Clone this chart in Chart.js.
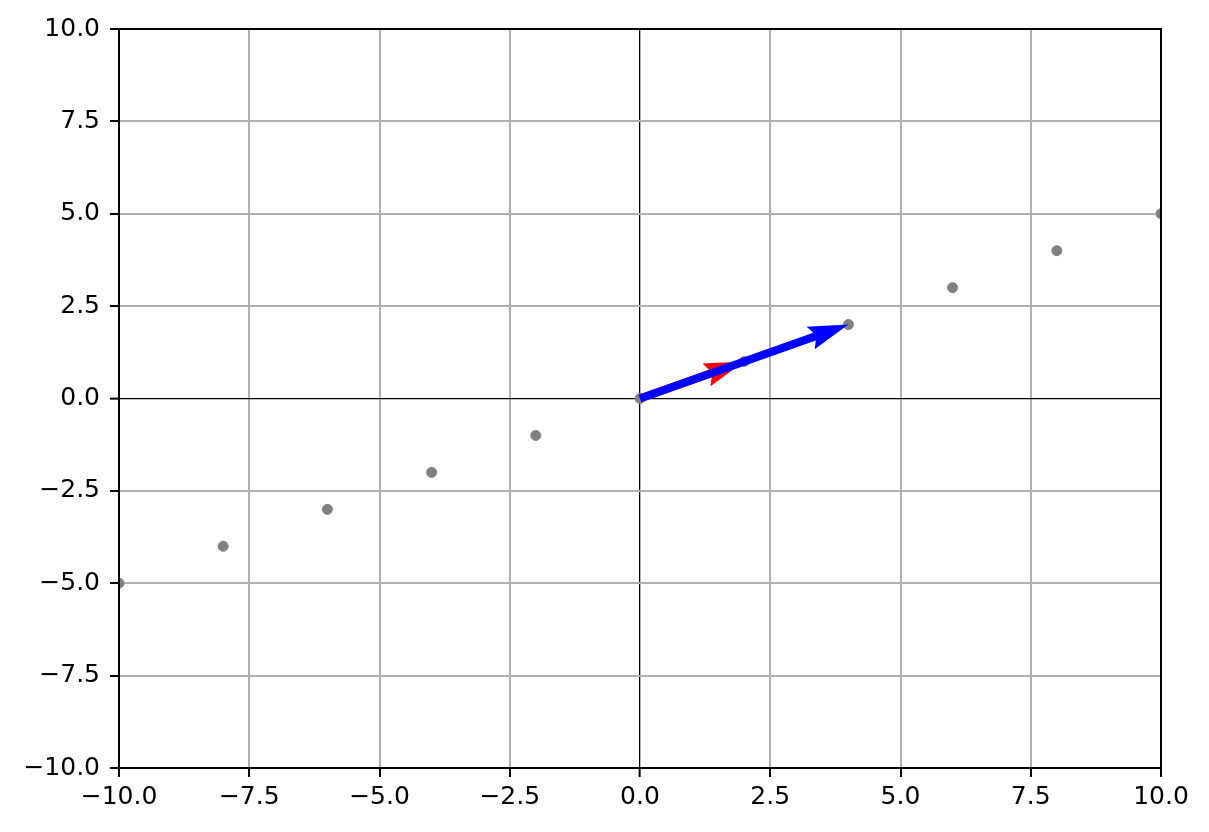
<!DOCTYPE html>
<html lang="en">
<head>
  <meta charset="UTF-8">
  <title>Vectors</title>
  <script src="https://cdn.jsdelivr.net/npm/chart.js"></script>
  <style>
    body { margin: 0; background: #fff; }
    canvas { display: block; }
  </style>
</head>
<body>
  <canvas id="myChart" width="1209" height="832"></canvas>

<script>
  // scatter points
  var point_x = [-10, -8, -6, -4, -2, 0, 2, 4, 6, 8, 10]
  var point_y = [-5, -4, -3, -2, -1, 0, 1, 2, 3, 4, 5]

  // arrows drawn from the origin (red first, blue on top)
  var arrow_x = [2, 4]
  var arrow_y = [1, 2]
  var arrow_colors = ['red', 'blue']

  var axis_min = -10
  var axis_max = 10
  var tick_step = 2.5

  var points = point_x.map(function (x, i) { return { x: x, y: point_y[i] } })

  function fmt(v) {
    return v.toFixed(1).replace('-', '\u2212')
  }

  function gridColor(ctx) {
    return ctx.tick && ctx.tick.value === 0 ? '#000000' : '#b0b0b0'
  }
  function gridWidth(ctx) {
    return ctx.tick && ctx.tick.value === 0 ? 1.3 : 2
  }

  // quiver style arrows, sized in pixels, positioned with the scales
  var arrowPlugin = {
    id: 'arrows',
    afterDatasetsDraw: function (chart) {
      var ctx = chart.ctx
      var xs = chart.scales.x
      var ys = chart.scales.y
      var x0 = xs.getPixelForValue(0)
      var y0 = ys.getPixelForValue(0)
      var w = 8
      for (var i = 0; i < arrow_x.length; i++) {
        var x1 = xs.getPixelForValue(arrow_x[i])
        var y1 = ys.getPixelForValue(arrow_y[i])
        var L = Math.hypot(x1 - x0, y1 - y0)
        var ang = Math.atan2(y1 - y0, x1 - x0)
        var hl = 5 * w, hal = 4.5 * w, hw = 3 * w
        ctx.save()
        ctx.translate(x0, y0)
        ctx.rotate(ang)
        ctx.beginPath()
        ctx.moveTo(0, -w / 2)
        ctx.lineTo(L - hal, -w / 2)
        ctx.lineTo(L - hl, -hw / 2)
        ctx.lineTo(L, 0)
        ctx.lineTo(L - hl, hw / 2)
        ctx.lineTo(L - hal, w / 2)
        ctx.lineTo(0, w / 2)
        ctx.closePath()
        ctx.fillStyle = arrow_colors[i]
        ctx.fill()
        ctx.restore()
      }
    },
    afterDraw: function (chart) {
      var a = chart.chartArea
      var ctx = chart.ctx
      ctx.save()
      ctx.strokeStyle = '#000'
      ctx.lineWidth = 2
      ctx.strokeRect(a.left, a.top, a.right - a.left, a.bottom - a.top)
      ctx.restore()
    }
  }

  new Chart(document.getElementById('myChart'), {
    type: 'scatter',
    data: {
      datasets: [{
        data: points,
        backgroundColor: '#808080',
        borderColor: '#808080',
        pointRadius: 5,
        pointHoverRadius: 5,
        clip: 0
      }]
    },
    options: {
      responsive: false,
      animation: false,
      events: [],
      layout: { padding: { top: 29, right: 48, left: 0, bottom: 0 } },
      plugins: {
        legend: { display: false },
        tooltip: { enabled: false }
      },
      scales: {
        x: {
          type: 'linear',
          min: axis_min,
          max: axis_max,
          afterFit: function (s) { s.height = 64 },
          ticks: {
            stepSize: tick_step,
            color: '#000',
            padding: 5,
            font: { family: 'DejaVu Sans', size: 25 },
            maxRotation: 0,
            callback: function (v) { return fmt(v) }
          },
          grid: { color: gridColor, lineWidth: gridWidth, tickLength: 9, tickColor: '#000', tickWidth: 2 },
          border: { color: '#000', width: 2 }
        },
        y: {
          type: 'linear',
          min: axis_min,
          max: axis_max,
          afterFit: function (s) { s.width = 119 },
          ticks: {
            stepSize: tick_step,
            color: '#000',
            padding: 10,
            font: { family: 'DejaVu Sans', size: 25 },
            callback: function (v) { return fmt(v) }
          },
          grid: { color: gridColor, lineWidth: gridWidth, tickLength: 9, tickColor: '#000', tickWidth: 2 },
          border: { color: '#000', width: 2 }
        }
      }
    },
    plugins: [arrowPlugin]
  });
</script>
</body>
</html>
